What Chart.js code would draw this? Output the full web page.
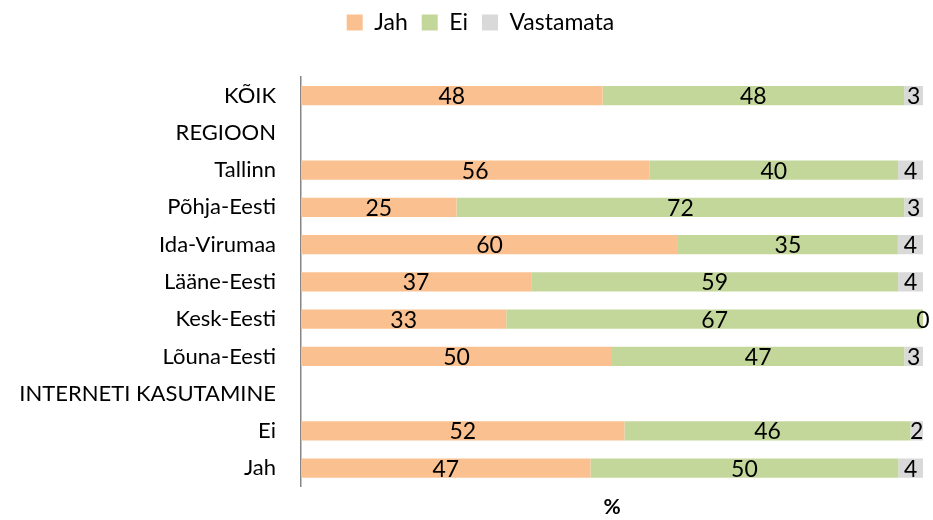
<!DOCTYPE html>
<html>
<head>
<meta charset="utf-8">
<script src="https://cdn.jsdelivr.net/npm/chart.js@4/dist/chart.umd.min.js"></script>
<style>
  body { margin: 0; background: #fff; }
</style>
</head>
<body>
<canvas id="myChart" width="933" height="520"></canvas>
<script>
var categories = ['KÕIK', 'REGIOON', 'Tallinn', 'Põhja-Eesti', 'Ida-Virumaa', 'Lääne-Eesti', 'Kesk-Eesti', 'Lõuna-Eesti', 'INTERNETI KASUTAMINE', 'Ei', 'Jah'];
var jah       = [48, null, 56, 25, 60, 37, 33, 50, null, 52, 47];
var ei        = [48, null, 40, 72, 35, 59, 67, 47, null, 46, 50];
var vastamata = [3,  null, 4,  3,  4,  4,  0,  3,  null, 2,  4];

// 100% stacked: each bar is scaled to its own total, labels show the raw numbers
function share(arr){
    return arr.map(function(v, i){
        if (v == null) return null;
        var total = jah[i] + ei[i] + vastamata[i];
        return v / total * 100;
    });
}

var FONT = 'Lato, "Open Sans", sans-serif';

const barLabels = {
    id: 'barLabels',
    afterDatasetsDraw(chart){
        const ctx = chart.ctx;
        ctx.save();
        ctx.font = '23px ' + FONT;
        ctx.fillStyle = '#000';
        ctx.textAlign = 'center';
        ctx.textBaseline = 'middle';
        chart.data.datasets.forEach(function(ds, di){
            chart.getDatasetMeta(di).data.forEach(function(bar, i){
                var raw = ds.raw[i];
                if (raw == null) return;
                ctx.fillText(String(raw), (bar.x + bar.base) / 2, bar.y + 1);
            });
        });
        ctx.restore();
    }
};

// extra room under the legend, and legend nudged right/up like the original
const legendSpace = {
    id: 'legendSpace',
    beforeInit(chart){
        const legend = chart.legend;
        const fit = legend.fit;
        legend.fit = function(){
            fit.bind(legend)();
            this.height += 30;
        };
        const draw = legend.draw;
        legend.draw = function(){
            const ctx = this.ctx;
            ctx.save();
            ctx.translate(19, -3);
            draw.apply(legend, arguments);
            ctx.restore();
        };
    }
};

const config = {
    type: 'bar',
    data: {
        labels: categories,
        datasets: [{
            label: 'Jah',
            backgroundColor: '#FAC090',
            data: share(jah),
            raw: jah
        },
        {
            label: 'Ei',
            backgroundColor: '#C4D79B',
            data: share(ei),
            raw: ei
        },
        {
            label: 'Vastamata',
            backgroundColor: '#D9D9D9',
            data: share(vastamata),
            raw: vastamata
        }]
    },
    options: {
        indexAxis: 'y',
        responsive: false,
        animation: false,
        categoryPercentage: 1,
        barPercentage: 0.52,
        layout: { padding: { top: 0, right: 10, bottom: 0, left: 0 } },
        plugins: {
            legend: {
                position: 'top',
                labels: {
                    font: { size: 23, family: FONT },
                    color: '#000',
                    boxWidth: 16,
                    boxHeight: 16,
                    padding: 14
                }
            },
            tooltip: { enabled: false }
        },
        scales: {
            x: {
                stacked: true,
                min: 0,
                max: 100,
                grid: { display: false },
                border: { display: false },
                ticks: { display: false },
                title: {
                    display: true,
                    text: '%',
                    color: '#000',
                    font: { size: 21, weight: 'bold', family: FONT },
                    padding: { top: 0, bottom: 0 }
                }
            },
            y: {
                stacked: true,
                grid: { display: false },
                border: { display: true, color: '#868686', width: 1.5 },
                ticks: {
                    color: '#000',
                    font: { size: 22, family: FONT },
                    padding: 17
                },
                afterFit: function(scale){ scale.width = 301; }
            }
        }
    },
    plugins: [barLabels, legendSpace]
};

new Chart(document.getElementById('myChart'), config);
</script>
</body>
</html>
